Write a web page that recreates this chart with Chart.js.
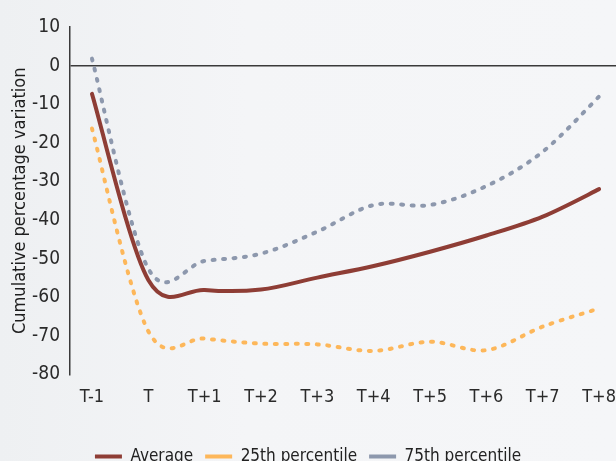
<!DOCTYPE html>
<html>
<head>
<meta charset="utf-8">
<script src="https://cdn.jsdelivr.net/npm/chart.js@4.4.1/dist/chart.umd.min.js"></script>
<style>
    html, body { margin: 0; padding: 0; }
    body {
        width: 616px; height: 461px; overflow: hidden;
        background: linear-gradient(90deg, #eef0f2 0%, #f4f5f7 40%, #f5f6f8 100%);
    }
    #wrap { position: relative; width: 616px; height: 475px; }
</style>
</head>
<body>
<div id="wrap"><canvas id="chart"></canvas></div>
<script>
// ---- data ----
const periods = ['T-1', 'T', 'T+1', 'T+2', 'T+3', 'T+4', 'T+5', 'T+6', 'T+7', 'T+8'];
const average = [-7.3, -55.5, -58.1, -58, -54.9, -51.9, -48.2, -44, -39.1, -32];
const pct25   = [-16.3, -68.8, -70.7, -72, -72.2, -73.9, -71.5, -73.7, -67.6, -62.9];
const pct75   = [1.8, -52.6, -50.6, -48.7, -43, -36.1, -36.1, -31.2, -22.3, -8];
const yTicks  = [10, 0, -10, -20, -30, -40, -50, -60, -70, -80];

const FONT = "'Liberation Sans Narrow', 'DejaVu Sans Condensed', sans-serif";
const X_AXIS_H = 61.5; // keeps plot bottom at the -80 line

const toPoints = arr => arr.map((v, i) => ({ x: i, y: v }));

// spreadsheet-style smoothing (Catmull-Rom), the original curves overshoot after T
const catmullRom = {
    id: 'catmullRom',
    beforeDatasetDraw(chart, args) {
        const pts = args.meta.data;
        const n = pts.length;
        pts.forEach((p, i) => {
            const prev = pts[Math.max(i - 1, 0)];
            const next = pts[Math.min(i + 1, n - 1)];
            const dx = (next.x - prev.x) / 6;
            const dy = (next.y - prev.y) / 6;
            p.cp1x = p.x - dx; p.cp1y = p.y - dy;
            p.cp2x = p.x + dx; p.cp2y = p.y + dy;
        });
        args.meta.dataset._pointsUpdated = true;
    }
};

const lineStyle = (label, values, color, dotted) => ({
    label: label,
    data: toPoints(values),
    borderColor: color,
    backgroundColor: color,
    borderWidth: 4,
    borderDash: dotted ? [2, 8.5] : [],
    borderCapStyle: 'round',
    tension: 0.4,
    pointRadius: 0
});

new Chart(document.getElementById('chart'), {
    type: 'line',
    data: {
        datasets: [
            lineStyle('Average', average, '#8e3d35', false),
            lineStyle('25th percentile', pct25, '#fdb75a', true),
            lineStyle('75th percentile', pct75, '#8d98ad', true)
        ]
    },
    plugins: [catmullRom],
    options: {
        responsive: true,
        maintainAspectRatio: false,
        animation: false,
        layout: { padding: { top: 27, right: 0, left: 0, bottom: 0 } },
        scales: {
            x: {
                type: 'linear',
                min: -0.39,
                max: 9.3,
                afterFit: s => { s.height = X_AXIS_H; s.paddingLeft = 0; s.paddingRight = 0; },
                afterBuildTicks: s => { s.ticks = periods.map((p, i) => ({ value: i })); },
                ticks: {
                    color: '#2a2a2a',
                    font: { family: FONT, size: 18 },
                    padding: 12,
                    maxRotation: 0,
                    autoSkip: false,
                    callback: v => periods[v]
                },
                grid: { display: false, drawTicks: false },
                border: { display: false }
            },
            y: {
                min: -80,
                max: 10,
                afterFit: s => { s.width = 70; },
                afterBuildTicks: s => { s.ticks = yTicks.map(v => ({ value: v })); },
                ticks: {
                    color: '#2a2a2a',
                    font: { family: FONT, size: 19 },
                    padding: 10
                },
                title: {
                    display: true,
                    text: 'Cumulative percentage variation',
                    color: '#1e1e1e',
                    font: { family: FONT, size: 18 },
                    padding: { top: 10, bottom: 0 }
                },
                grid: {
                    drawTicks: false,
                    lineWidth: 1.5,
                    color: c => c.tick && c.tick.value === 0 ? '#3a3a3a' : 'rgba(0,0,0,0)'
                },
                border: { display: true, color: '#3a3a3a', width: 1.5 }
            }
        },
        plugins: {
            legend: {
                position: 'bottom',
                labels: {
                    color: '#222',
                    font: { family: FONT, size: 17 },
                    usePointStyle: true,
                    pointStyle: 'line',
                    pointStyleWidth: 27,
                    boxHeight: 10,
                    padding: 12
                }
            },
            tooltip: { enabled: false }
        }
    }
});
</script>
</body>
</html>
